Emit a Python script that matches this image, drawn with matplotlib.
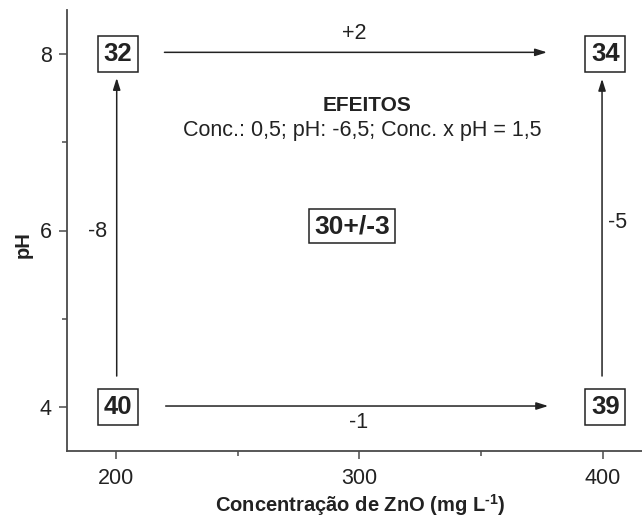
import matplotlib
matplotlib.use("Agg")
import matplotlib.pyplot as plt

plt.rcParams['font.family'] = ['Liberation Sans', 'DejaVu Sans']
plt.rcParams['mathtext.fontset'] = 'custom'
plt.rcParams['mathtext.rm'] = 'Liberation Sans:bold'
plt.rcParams['mathtext.bf'] = 'Liberation Sans:bold'

# ---- data ----
conc_levels = [200, 400]          # mg/L ZnO
ph_levels = [4, 8]
box_conc = [200, 400, 200, 400]
box_ph = [8, 8, 4, 4]
box_values = ['32', '34', '40', '39']
center_label = '30+/-3'
effect_top = '+2'       # conc effect at pH 8
effect_bottom = '-1'    # conc effect at pH 4
effect_left = '-8'      # pH effect at 200 mg/L
effect_right = '-5'     # pH effect at 400 mg/L
effects_title = 'EFEITOS'
effects_text = 'Conc.: 0,5; pH: -6,5; Conc. x pH = 1,5'
x_ticks = [200, 300, 400]
y_ticks = [4, 6, 8]

W, H = 642, 523
fig = plt.figure(figsize=(W / 100, H / 100), dpi=100)
ax = fig.add_axes([67 / W, (H - 451) / H, (W - 67) / W, (451 - 10) / H])
ax.set_xlim(180, 416)
ax.set_ylim(3.5, 8.5)

dark = '#222222'
spine_c = '#4a4a4a'
for s in ['top', 'right']:
    ax.spines[s].set_visible(False)
for s in ['left', 'bottom']:
    ax.spines[s].set_color(spine_c)
    ax.spines[s].set_linewidth(1.3)

ax.set_xticks(x_ticks)
ax.set_xticks([250, 350], minor=True)
ax.set_yticks(y_ticks)
ax.set_yticks([5, 7], minor=True)
ax.tick_params(which='major', direction='out', length=6, width=1.1, color=spine_c,
               labelsize=15.5, labelcolor=dark)
ax.tick_params(which='minor', direction='out', length=3.6, width=1.1, color=spine_c)
ax.tick_params(axis='y', which='major', pad=5)
ax.tick_params(axis='x', which='major', pad=6)

# boxes
for x, y, v in zip(box_conc, box_ph, box_values):
    ax.text(x + 1, y, v, ha='center', va='center', fontsize=18.5, fontweight='bold',
            color=dark,
            bbox=dict(boxstyle='square,pad=0.22', fc='white', ec=dark, lw=1.1))

ax.text(297, 6.05, center_label, ha='center', va='center', fontsize=19, fontweight='bold',
        color=dark, bbox=dict(boxstyle='square,pad=0.2', fc='white', ec=dark, lw=1.1))

# arrows
ap = dict(arrowstyle='-|>,head_length=0.7,head_width=0.22', color=dark, lw=1.1,
          shrinkA=0, shrinkB=0, mutation_scale=10)
x0, x1 = conc_levels
y0, y1 = ph_levels
ax.annotate('', xy=(377, y1 + 0.02), xytext=(220, y1 + 0.02), arrowprops=ap)
ax.annotate('', xy=(377.5, y0 + 0.01), xytext=(220.5, y0 + 0.01), arrowprops=ap)
ax.annotate('', xy=(x0 + 0.4, 7.73), xytext=(x0 + 0.4, 4.35), arrowprops=ap)
ax.annotate('', xy=(x1 - 0.4, 7.72), xytext=(x1 - 0.4, 4.35), arrowprops=ap)

ax.text(298, 8.23, effect_top, ha='center', va='center', fontsize=15.5, color=dark)
ax.text(299.5, 3.82, effect_bottom, ha='center', va='center', fontsize=15.5, color=dark)
ax.text(192.6, 5.99, effect_left, ha='center', va='center', fontsize=15.5, color=dark)
ax.text(405.8, 6.09, effect_right, ha='center', va='center', fontsize=15.5, color=dark)

ax.text(303, 7.42, effects_title, ha='center', va='center', fontsize=15,
        fontweight='bold', color=dark)
ax.text(301, 7.13, effects_text, ha='center', va='center', fontsize=15.5, color=dark)

ax.set_xlabel(r'Concentração de ZnO (mg L$^{\text{-1}}$)', fontsize=14.5,
              fontweight='bold', color=dark)
ax.xaxis.set_label_coords((360 - 67) / 575, (451 - 505) / 441)
ax.xaxis.label.set_va('center')
ax.set_ylabel('pH', fontsize=14.5, fontweight='bold', color=dark)
ax.yaxis.set_label_coords((23 - 67) / 575, (451 - 245) / 441)
ax.yaxis.label.set_va('center')

fig.savefig('out.png', dpi=100)
